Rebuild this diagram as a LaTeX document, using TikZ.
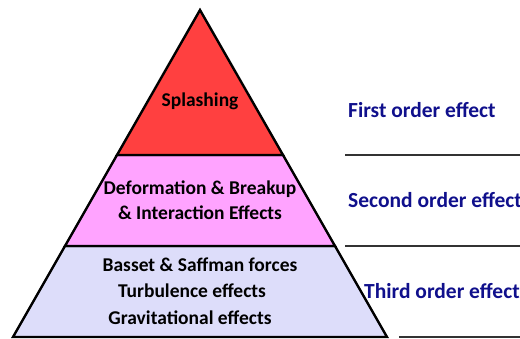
\documentclass[tikz,border=0pt]{standalone}
\usepackage{fontspec}
\setmainfont{Carlito}
\usetikzlibrary{calc}
\definecolor{splashred}{RGB}{255,64,64}
\definecolor{deformpink}{RGB}{255,163,255}
\definecolor{forcelav}{RGB}{221,221,250}
\definecolor{ordblue}{RGB}{16,16,140}

\begin{document}
\begin{tikzpicture}[x=1pt,y=-1pt,
	band/.style={draw=black,line width=2.4pt},
	sep/.style={draw=black!80,line width=1.3pt},
	lvl/.style={font=\bfseries\fontsize{19.5}{25}\selectfont,text=black,align=center,inner sep=0pt},
	ord/.style={font=\bfseries\fontsize{21.5}{25}\selectfont,text=ordblue,anchor=west,inner sep=0pt}]
		\useasboundingbox (0,0) rectangle (520,338);
		\path (200,10) coordinate (top)
		(117,155) coordinate (l1)
		(283,155) coordinate (r1)
		(65,246) coordinate (l2)
		(335,246) coordinate (r2)
		(13,337) coordinate (l3)
		(387,337) coordinate (r3);

		% the three layers
		\draw[band,fill=forcelav] (l2) -- (r2) -- (r3) -- (l3) -- cycle;
		\draw[band,fill=deformpink] (l1) -- (r1) -- (r2) -- (l2) -- cycle;
		\draw[band,fill=splashred] (top) -- (r1) -- (l1) -- cycle;

		\path (200,101) node[lvl] (splash) {Splashing}
		(200,200) node[lvl] (deform) {Deformation \& Breakup\\\& Interaction Effects}
		(200,265) node[lvl] (basset) {Basset \& Saffman forces}
		(192,291) node[lvl] (turb) {Turbulence effects}
		(190,318) node[lvl] (grav) {Gravitational effects};

		\path (348,110) node[ord] (first) {First order effect}
		(348,200) node[ord] (second) {Second order effect}
		(364,291) node[ord] (third) {Third order effect};

		% rules beside the pyramid
		\path (345,155) coordinate (s1a) (520,155) coordinate (s1b)
		(345,246) coordinate (s2a) (520,246) coordinate (s2b)
		(399,337) coordinate (s3a) (520,337) coordinate (s3b);
		\draw[sep] (s1a) -- (s1b)
		(s2a) -- (s2b)
		(s3a) -- (s3b);
	\end{tikzpicture}
\end{document}
